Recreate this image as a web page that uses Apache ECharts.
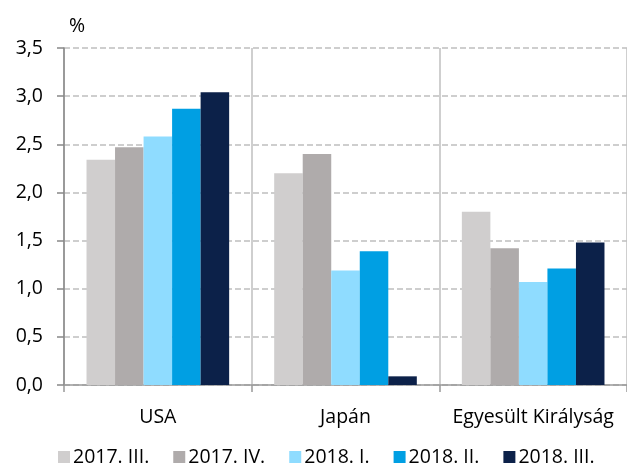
<!DOCTYPE html>
<html>
<head>
<meta charset="utf-8">
<script src="https://cdn.jsdelivr.net/npm/echarts@6/dist/echarts.min.js"></script>
<style>
  html, body { margin: 0; padding: 0; background: #fff; }
  #chart { width: 627px; height: 466px; }
</style>
</head>
<body>
<div id="chart"></div>
<script>
const categories = ['USA', 'Japán', 'Egyesült Királyság']
const seriesNames = ['2017. III.', '2017. IV.', '2018. I.', '2018. II.', '2018. III.']
const q2017_3 = [2.34, 2.20, 1.80]
const q2017_4 = [2.47, 2.40, 1.42]
const q2018_1 = [2.58, 1.19, 1.07]
const q2018_2 = [2.87, 1.39, 1.21]
const q2018_3 = [3.04, 0.09, 1.48]
const values = [q2017_3, q2017_4, q2018_1, q2018_2, q2018_3]
const colors = ['#d0cece', '#afabab', '#8fdcff', '#009fe3', '#0c2149']

const font = 'Open Sans'
const fs = 19.5

const chart = echarts.init(document.getElementById('chart'))

chart.setOption({
  animation: false,
  color: colors,
  textStyle: { fontFamily: font },
  title: {
    text: '%',
    left: 64,
    top: 11,
    textStyle: { fontFamily: font, fontSize: fs, fontWeight: 'normal', color: '#000' }
  },
  legend: {
    data: seriesNames,
    left: 53,
    top: 442,
    icon: 'rect',
    itemWidth: 12,
    itemHeight: 12,
    itemGap: 24,
    textStyle: { fontFamily: font, fontSize: fs, color: '#000', padding: [0, 0, 0, -2] }
  },
  grid: {
    left: 64,
    right: 0,
    top: 48,
    bottom: 81
  },
  xAxis: {
    type: 'category',
    data: categories,
    axisLine: { lineStyle: { color: '#999999', width: 1.5 } },
    axisTick: { show: true, interval: 0, length: 7, lineStyle: { color: '#999999', width: 1.5 } },
    axisLabel: { interval: 0, color: '#000', fontSize: fs, fontFamily: font, margin: 22 },
    splitLine: { show: true, interval: 0, lineStyle: { color: '#bfbfbf', width: 1.5 } }
  },
  yAxis: {
    type: 'value',
    min: 0,
    max: 3.5,
    interval: 0.5,
    axisLine: { show: true, lineStyle: { color: '#888888', width: 1.5 } },
    axisTick: { show: true, length: 7, lineStyle: { color: '#888888', width: 1.5 } },
    axisLabel: {
      color: '#000',
      fontSize: fs,
      fontFamily: font,
      margin: 21,
      formatter: v => v.toFixed(1).replace('.', ',')
    },
    splitLine: { show: true, lineStyle: { color: '#bfbfbf', width: 1.5, type: [6, 3] } }
  },
  series: seriesNames.map((name, i) => ({
    name: name,
    type: 'bar',
    data: values[i],
    barGap: '0%',
    barCategoryGap: '24%',
    itemStyle: { color: colors[i] }
  }))
})
</script>
</body>
</html>
